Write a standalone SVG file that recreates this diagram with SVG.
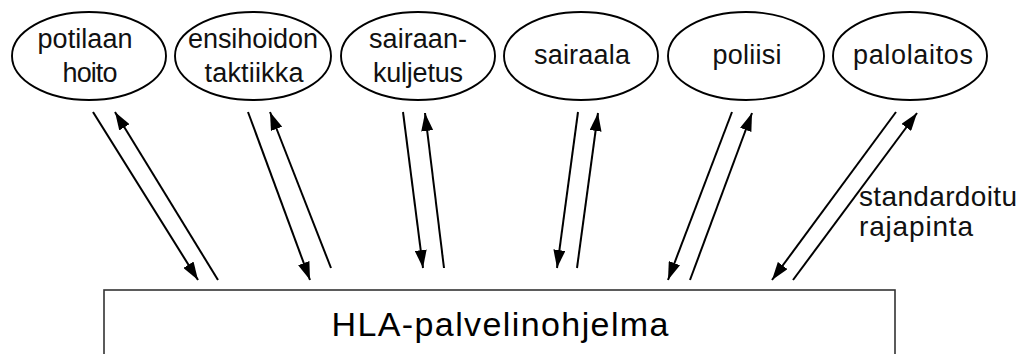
<svg xmlns="http://www.w3.org/2000/svg" width="1021" height="354" viewBox="0 0 1021 354">
  <style>
    .node ellipse { fill: #ffffff; stroke: #000000; stroke-width: 1.9; }
    .lbl { font-family: "Liberation Sans", Arial, sans-serif; font-size: 27px; fill: #111111; text-anchor: middle; }
    .big { font-family: "Liberation Sans", Arial, sans-serif; font-size: 34px; fill: #000000; text-anchor: middle; }
    .note { font-family: "Liberation Sans", Arial, sans-serif; font-size: 28px; fill: #111111; }
    .conn line { stroke: #000000; stroke-width: 2; fill: none; marker-end: url(#ah); }
  </style>
  <defs>
    <marker id="ah" viewBox="0 0 18 12" refX="18" refY="6" markerWidth="18" markerHeight="12" markerUnits="userSpaceOnUse" orient="auto">
      <path d="M0,0 L18,6 L0,12 z" fill="#000000"/>
    </marker>
  </defs>
  <rect width="1021" height="354" fill="#ffffff"/>

  <!-- service box -->
  <g id="hla">
    <rect x="104" y="290" width="791" height="80" fill="#ffffff" stroke="#333333" stroke-width="1.6"/>
    <text class="big" x="500" y="336" textLength="337" lengthAdjust="spacing">HLA-palvelinohjelma</text>
  </g>

  <!-- federates -->
  <g id="potilaan-hoito" class="node">
    <ellipse cx="89" cy="56" rx="77" ry="44"/>
    <text class="lbl" x="85" y="48" textLength="95" lengthAdjust="spacing">potilaan</text>
    <text class="lbl" x="90" y="82" textLength="55" lengthAdjust="spacing">hoito</text>
  </g>
  <g id="ensihoidon-taktiikka" class="node">
    <ellipse cx="253" cy="56" rx="78" ry="44"/>
    <text class="lbl" x="253" y="48" textLength="130" lengthAdjust="spacing">ensihoidon</text>
    <text class="lbl" x="254" y="82" textLength="99" lengthAdjust="spacing">taktiikka</text>
  </g>
  <g id="sairaankuljetus" class="node">
    <ellipse cx="418" cy="56" rx="77" ry="44"/>
    <text class="lbl" x="418" y="48" textLength="98" lengthAdjust="spacing">sairaan-</text>
    <text class="lbl" x="418" y="82" textLength="90" lengthAdjust="spacing">kuljetus</text>
  </g>
  <g id="sairaala" class="node">
    <ellipse cx="581" cy="56" rx="77" ry="44"/>
    <text class="lbl" x="582" y="64" textLength="96" lengthAdjust="spacing">sairaala</text>
  </g>
  <g id="poliisi" class="node">
    <ellipse cx="746" cy="56" rx="78" ry="44"/>
    <text class="lbl" x="747" y="64" textLength="69" lengthAdjust="spacing">poliisi</text>
  </g>
  <g id="palolaitos" class="node">
    <ellipse cx="910" cy="56" rx="77" ry="44"/>
    <text class="lbl" x="913" y="64" textLength="120" lengthAdjust="spacing">palolaitos</text>
  </g>

  <!-- interface arrows: down to the service, up to the federate -->
  <g id="connectors" class="conn">
    <line x1="93" y1="112" x2="198" y2="280"/>
    <line x1="218" y1="280" x2="115" y2="112"/>
    <line x1="248" y1="112" x2="310" y2="280"/>
    <line x1="331" y1="268" x2="270" y2="112"/>
    <line x1="403" y1="112" x2="423" y2="268"/>
    <line x1="444" y1="268" x2="425" y2="113"/>
    <line x1="578" y1="112" x2="557" y2="268"/>
    <line x1="577" y1="268" x2="598" y2="113"/>
    <line x1="732" y1="112" x2="668" y2="280"/>
    <line x1="690" y1="280" x2="752" y2="113"/>
    <line x1="896" y1="112" x2="772" y2="280"/>
    <line x1="793" y1="280" x2="917" y2="113"/>
  </g>

  <g id="interface-label">
    <text class="note" x="859" y="206" textLength="158" lengthAdjust="spacing">standardoitu</text>
    <text class="note" x="859" y="236" textLength="114" lengthAdjust="spacing">rajapinta</text>
  </g>
</svg>
